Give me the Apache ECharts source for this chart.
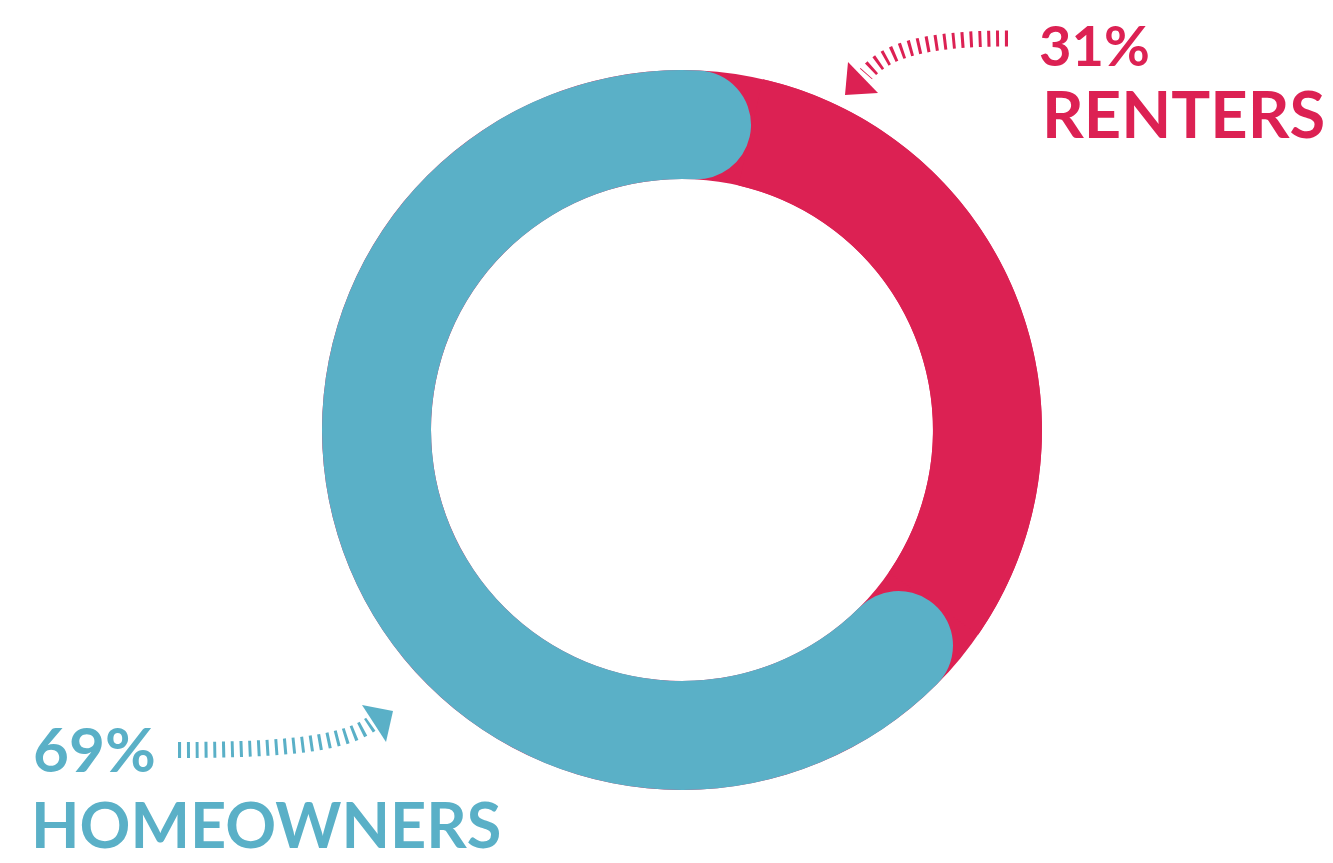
<!DOCTYPE html>
<html>
<head>
<meta charset="utf-8">
<script src="https://cdn.jsdelivr.net/npm/echarts@6/dist/echarts.min.js"></script>
<style>
  html, body { margin: 0; padding: 0; background: #ffffff; }
  #chart { width: 1333px; height: 863px; }
</style>
</head>
<body>
<div id="chart"></div>
<script>
// Housing tenure split
const categories = ['Renters', 'Homeowners'];
const shares = [31, 69];
const sliceColors = ['#DC2153', '#5AB0C7'];
const captionWords = ['RENTERS', 'HOMEOWNERS'];

const RED = sliceColors[0];
const TEAL = sliceColors[1];
const ringCenter = [682, 430];
const ringRadius = [251, 360];
const total = shares.reduce((a, b) => a + b, 0);

const chart = echarts.init(document.getElementById('chart'), null, { renderer: 'canvas' });

// dashed, curved pointer arrows next to the captions
function hatchedCurve(shape, color) {
  return {
    type: 'bezierCurve',
    silent: true,
    shape: shape,
    style: { stroke: color, lineWidth: 16, lineDash: [3, 5.8], fill: null }
  };
}
function arrowHead(points, color) {
  return { type: 'polygon', silent: true, shape: { points: points }, style: { fill: color } };
}
function caption(text, x, y, size, color) {
  return {
    type: 'text', silent: true, x: x, y: y,
    style: {
      text: text, fill: color,
      font: 'bold ' + size + 'px Lato, "Open Sans", sans-serif',
      textAlign: 'left', textVerticalAlign: 'middle'
    }
  };
}

const option = {
  animation: false,
  backgroundColor: '#ffffff',
  series: [
    {
      // ring track beneath the slices
      type: 'pie',
      name: 'track',
      silent: true,
      center: ringCenter,
      radius: ringRadius,
      label: { show: false },
      labelLine: { show: false },
      z: 1,
      data: [{ name: 'total', value: total, itemStyle: { color: RED } }]
    },
    {
      type: 'pie',
      name: 'Tenure',
      silent: true,
      center: ringCenter,
      radius: ringRadius,
      startAngle: 77,
      clockwise: true,
      label: { show: false },
      labelLine: { show: false },
      z: 2,
      data: categories.map((name, i) => ({
        name: name,
        value: shares[i],
        itemStyle: i === 1
          ? { color: sliceColors[i], borderRadius: 55 }
          : { color: sliceColors[i] }
      }))
    }
  ],
  graphic: [
    hatchedCurve({ x1: 1008, y1: 38.5, cpx1: 920, cpy1: 38.5, cpx2: 885, cpy2: 52, x2: 866, y2: 74 }, RED),
    arrowHead([[848, 62], [845, 95], [878, 93]], RED),
    hatchedCurve({ x1: 178, y1: 750, cpx1: 290, cpy1: 750, cpx2: 345, cpy2: 743, x2: 371, y2: 724 }, TEAL),
    arrowHead([[362, 705], [393, 711], [386, 742]], TEAL),
    caption(shares[0] + '%', 1039, 48, 56, RED),
    caption(captionWords[0], 1042, 117, 65, RED),
    caption(shares[1] + '%', 33, 752, 62, TEAL),
    caption(captionWords[1], 31, 828, 63, TEAL)
  ]
};

chart.setOption(option);
</script>
</body>
</html>
